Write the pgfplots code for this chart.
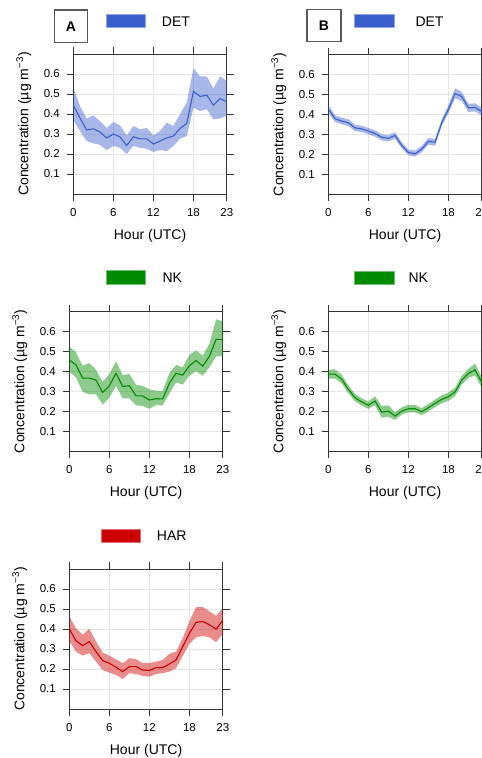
\documentclass[border=0pt]{standalone}
\usepackage{fontspec}
\setmainfont{Liberation Sans}
\usepackage{pgfplots}
\usepackage{pgfplotstable}
\pgfplotsset{compat=1.18}
\usepgfplotslibrary{fillbetween}

\definecolor{detcol}{HTML}{3A5FCD}
\definecolor{nkcol}{HTML}{008B00}
\definecolor{harcol}{HTML}{CD0000}
\definecolor{gridgray}{HTML}{E6E6E6}
\definecolor{framegray}{HTML}{333333}

% hour, mean, upper, lower
\pgfplotstableread{
h m up lo
0 .444 .533 .370
1 .380 .440 .315
2 .320 .377 .265
3 .326 .393 .253
4 .310 .365 .246
5 .280 .330 .220
6 .300 .360 .240
7 .285 .343 .231
8 .243 .293 .200
9 .286 .340 .240
10 .276 .323 .231
11 .276 .330 .226
12 .250 .293 .210
13 .265 .315 .220
14 .280 .357 .214
15 .290 .340 .240
16 .328 .400 .276
17 .353 .457 .290
18 .513 .628 .432
19 .488 .588 .415
20 .494 .588 .424
21 .444 .528 .373
22 .477 .588 .378
23 .460 .566 .393
}\detA

\pgfplotstableread{
h m up lo
0 .428 .447 .410
1 .378 .395 .362
2 .366 .383 .350
3 .358 .375 .341
4 .332 .348 .316
5 .327 .343 .311
6 .316 .332 .300
7 .304 .320 .288
8 .285 .300 .270
9 .280 .296 .264
10 .294 .310 .278
11 .245 .260 .230
12 .209 .224 .195
13 .203 .218 .189
14 .226 .242 .211
15 .265 .282 .248
16 .260 .277 .243
17 .358 .375 .341
18 .425 .445 .405
19 .504 .530 .480
20 .489 .512 .466
21 .432 .452 .412
22 .435 .455 .415
23 .413 .433 .393
}\detB

\pgfplotstableread{
h m up lo
0 .457 .524 .398
1 .432 .495 .370
2 .366 .428 .297
3 .366 .441 .285
4 .356 .408 .285
5 .294 .347 .234
6 .328 .386 .268
7 .390 .450 .327
8 .324 .381 .265
9 .328 .386 .265
10 .277 .333 .230
11 .277 .327 .226
12 .256 .310 .213
13 .263 .302 .231
14 .262 .302 .230
15 .341 .391 .289
16 .390 .432 .344
17 .381 .420 .334
18 .428 .483 .378
19 .454 .504 .400
20 .426 .479 .378
21 .475 .538 .420
22 .560 .660 .475
23 .560 .650 .475
}\nkA

\pgfplotstableread{
h m up lo
0 .386 .408 .364
1 .386 .410 .364
2 .361 .383 .340
3 .310 .330 .290
4 .268 .287 .250
5 .247 .266 .229
6 .230 .249 .212
7 .252 .275 .230
8 .196 .226 .168
9 .201 .230 .172
10 .176 .196 .157
11 .201 .220 .183
12 .213 .232 .195
13 .213 .232 .195
14 .198 .216 .180
15 .218 .237 .200
16 .240 .259 .221
17 .260 .280 .240
18 .273 .294 .252
19 .297 .318 .276
20 .356 .378 .334
21 .390 .413 .367
22 .407 .438 .378
23 .344 .370 .318
}\nkB

\pgfplotstableread{
h m up lo
0 .401 .463 .341
1 .341 .404 .287
2 .317 .371 .267
3 .337 .401 .279
4 .287 .337 .237
5 .242 .282 .195
6 .229 .267 .182
7 .209 .249 .170
8 .187 .229 .150
9 .212 .254 .179
10 .212 .249 .175
11 .195 .229 .165
12 .192 .229 .162
13 .207 .237 .175
14 .207 .245 .179
15 .225 .276 .187
16 .245 .287 .204
17 .312 .354 .266
18 .379 .438 .326
19 .433 .510 .359
20 .438 .510 .366
21 .421 .488 .358
22 .399 .466 .334
23 .443 .505 .376
}\harA

\pgfplotsset{
  panel/.style={
    scale only axis, width=153.5pt, height=140pt, anchor=south west,
    xmin=0, xmax=23, ymin=0, ymax=0.7,
    xtick={0,6,12,18,23}, xticklabels={0,6,12,18,23},
    ytick={0.1,0.2,0.3,0.4,0.5,0.6}, yticklabels={0.1,0.2,0.3,0.4,0.5,0.6},
    tick align=outside, major tick length=6.7pt,
    xticklabel pos=left, yticklabel pos=left,
    grid=major, grid style={line width=0.8pt, color=gridgray},
    axis line style={line width=0.9pt, color=framegray},
    tick style={line width=0.9pt, color=framegray},
    ticklabel style={font=\fontsize{11.5}{13}\selectfont, text=black},
    xticklabel style={anchor=center, yshift=-11.8pt},
    yticklabel style={anchor=east, xshift=-3.3pt},
    xlabel={Hour (UTC)},
    ylabel={Concentration (µg m\textsuperscript{−3})},
    every axis x label/.style={at={(axis description cs:0.5,-0.3)}, anchor=center, font=\fontsize{14}{16}\selectfont},
    every axis y label/.style={at={(axis description cs:-0.323,0.5)}, rotate=90, anchor=center, font=\fontsize{14}{16}\selectfont},
  },
  band/.style={fill=#1, fill opacity=0.45, draw=none},
}

\newcommand{\series}[2]{%
  \addplot[name path=up, draw=none, forget plot] table[x=h,y=up]{#1};
  \addplot[name path=lo, draw=none, forget plot] table[x=h,y=lo]{#1};
  \addplot[band=#2] fill between[of=up and lo];
  \addplot[#2, line width=1.1pt] table[x=h,y=m]{#1};
}

\begin{document}
\begin{tikzpicture}
% panel letters
\draw[line width=1.2pt, color=black!65] (54.3pt,-10pt) rectangle (87.7pt,-42.3pt);
\node[font=\fontsize{14}{16}\selectfont\bfseries] at (71pt,-26.3pt) {A};
\draw[line width=1.2pt, color=black!65] (307pt,-9.3pt) rectangle (341pt,-41.7pt);
\node[font=\fontsize{14}{16}\selectfont\bfseries] at (324pt,-25.5pt) {B};

% legend keys
\tikzset{key/.style={fill=#1, draw=#1!55, line width=0.8pt},
         keytext/.style={anchor=west, inner sep=0pt, font=\fontsize{14}{16}\selectfont}}
\path[key=detcol] (106pt,-14.3pt) rectangle (145.7pt,-27.3pt);
\node[keytext] at (161.7pt,-21.3pt) {DET};
\path[key=detcol] (354.3pt,-14pt) rectangle (394.3pt,-27.7pt);
\node[keytext] at (415.3pt,-21.7pt) {DET};
\path[key=nkcol] (106pt,-270.7pt) rectangle (145.7pt,-284.7pt);
\node[keytext] at (162.3pt,-278pt) {NK};
\path[key=nkcol] (354.3pt,-271pt) rectangle (394.3pt,-284.7pt);
\node[keytext] at (408.3pt,-278pt) {NK};
\path[key=harcol] (101pt,-529pt) rectangle (140.7pt,-542.7pt);
\node[keytext] at (156.7pt,-536pt) {HAR};

\begin{axis}[panel, at={(73.3pt,-194pt)}]
\series{\detA}{detcol}
\end{axis}
\begin{axis}[panel, at={(328.3pt,-194.3pt)}]
\series{\detB}{detcol}
\end{axis}
\begin{axis}[panel, at={(69.3pt,-451.3pt)}]
\series{\nkA}{nkcol}
\end{axis}
\begin{axis}[panel, at={(328.3pt,-451.3pt)}]
\series{\nkB}{nkcol}
\end{axis}
\begin{axis}[panel, at={(69.3pt,-709pt)}]
\series{\harA}{harcol}
\end{axis}

\pgfresetboundingbox
\path[use as bounding box] (0,0) rectangle (482pt,-758pt);
\end{tikzpicture}
\end{document}
